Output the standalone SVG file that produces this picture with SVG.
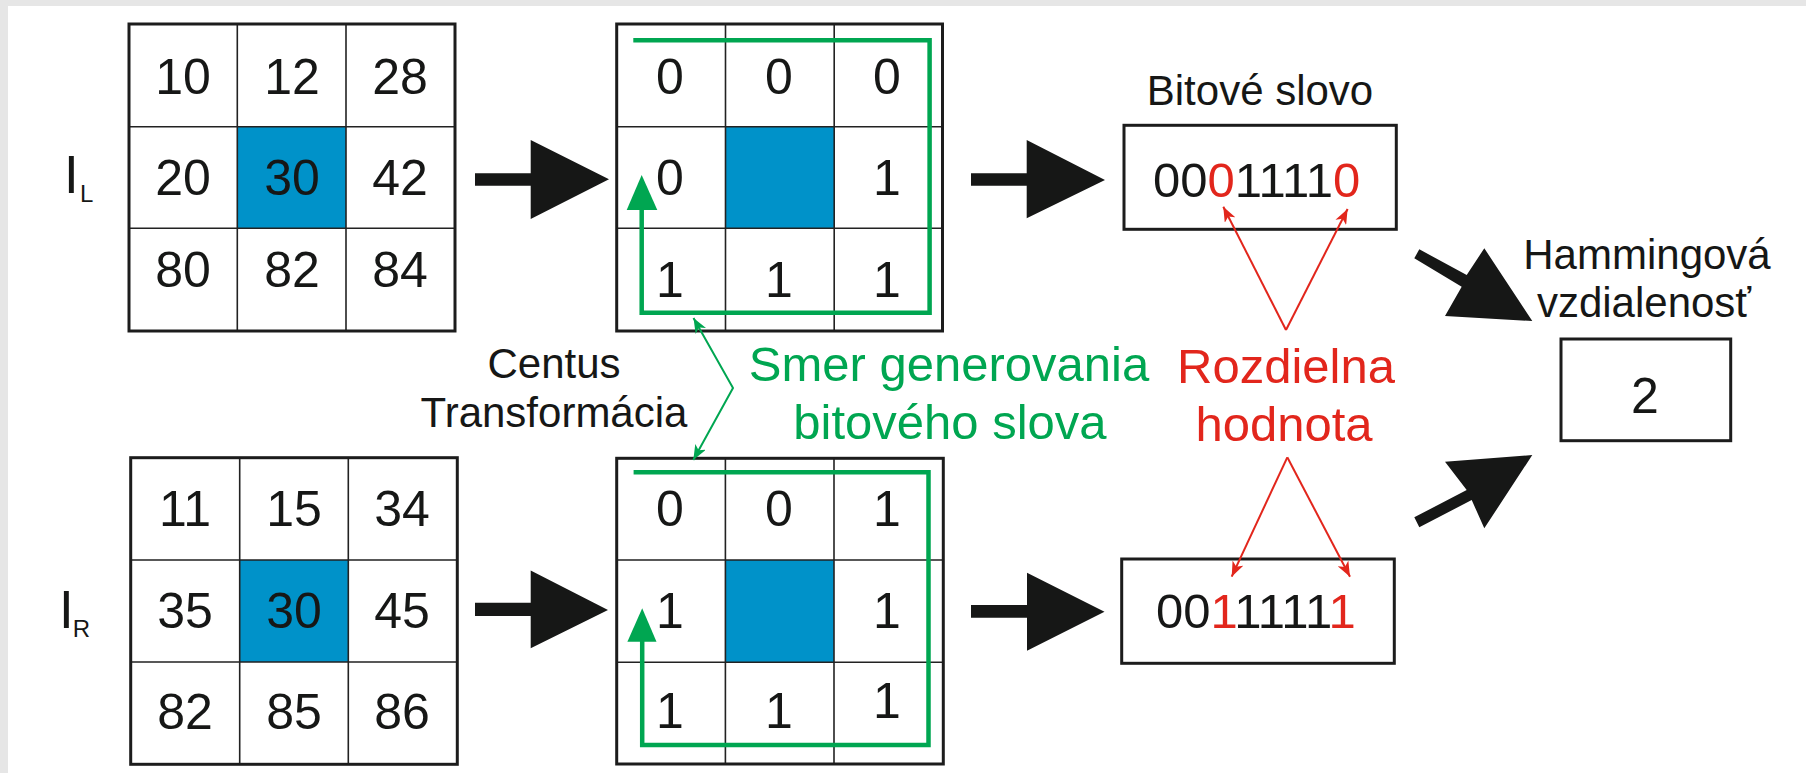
<svg xmlns="http://www.w3.org/2000/svg" width="1806" height="773" viewBox="0 0 1806 773">
<defs>
<style>
.t{font-family:"Liberation Sans",Arial,sans-serif;fill:#161716}
.d{font-size:50px;text-anchor:middle}
.lb{font-size:42px;text-anchor:middle}
.big{font-size:49px;text-anchor:middle}
.g{fill:#00a651}
.r{fill:#e2261c}
.outer{fill:none;stroke:#1c1c1c;stroke-width:3}
.inner{stroke:#222;stroke-width:1.6;fill:none}
.blue{fill:#0092c9}
.box{fill:#fff;stroke:#1c1c1c;stroke-width:3}
.bk{fill:#161716}
.gp{fill:none;stroke:#00a651;stroke-width:4.5}
.thinr{fill:none;stroke:#e2261c;stroke-width:2}
.thing{fill:none;stroke:#00a651;stroke-width:2}
</style>
<marker id="mr" markerUnits="userSpaceOnUse" markerWidth="16" markerHeight="12" refX="15" refY="6" orient="auto">
<path d="M0,0 L15,6 L0,12 L4,6 Z" fill="#e2261c"/>
</marker>
<marker id="mg" markerUnits="userSpaceOnUse" markerWidth="16" markerHeight="12" refX="15" refY="6" orient="auto-start-reverse">
<path d="M0,0 L15,6 L0,12 L4,6 Z" fill="#00a651"/>
</marker>
</defs>
<rect x="0" y="0" width="1806" height="773" fill="#ffffff"/>
<rect x="0" y="0" width="1806" height="6" fill="#e6e6e6"/>
<rect x="0" y="0" width="8" height="773" fill="#e6e6e6"/>

<g id="grid-IL">
<rect class="blue" x="237.3" y="126.7" width="108.7" height="101.6"/>
<path class="inner" d="M237.3,24 V331 M346,24 V331 M129,126.7 H455 M129,228.3 H455"/>
<rect class="outer" x="129" y="24" width="326" height="307"/>
<text class="t d" x="183" y="94.3">10</text>
<text class="t d" x="292" y="94.3">12</text>
<text class="t d" x="400" y="94.3">28</text>
<text class="t d" x="183" y="195">20</text>
<text class="t d" x="292" y="195">30</text>
<text class="t d" x="400" y="195">42</text>
<text class="t d" x="183" y="287.3">80</text>
<text class="t d" x="292" y="287.3">82</text>
<text class="t d" x="400" y="287.3">84</text>
</g>
<g id="label-IL">
<text class="t" x="64" y="193" font-size="53">I</text>
<text class="t" x="80" y="201.7" font-size="24">L</text>
</g>

<g id="grid-IR">
<rect class="blue" x="239.7" y="560" width="108.6" height="102"/>
<path class="inner" d="M239.7,457.7 V764.3 M348.3,457.7 V764.3 M130.7,560 H457.3 M130.7,662 H457.3"/>
<rect class="outer" x="130.7" y="457.7" width="326.6" height="306.6"/>
<text class="t d" x="185" y="525.7">11</text>
<text class="t d" x="294" y="525.7">15</text>
<text class="t d" x="402" y="525.7">34</text>
<text class="t d" x="185" y="627.7">35</text>
<text class="t d" x="294" y="627.7">30</text>
<text class="t d" x="402" y="627.7">45</text>
<text class="t d" x="185" y="729.3">82</text>
<text class="t d" x="294" y="729.3">85</text>
<text class="t d" x="402" y="729.3">86</text>
</g>
<g id="label-IR">
<text class="t" x="59" y="627.7" font-size="53">I</text>
<text class="t" x="72.7" y="636.7" font-size="24">R</text>
</g>

<g id="ct-top">
<rect class="blue" x="725.5" y="126.7" width="108.7" height="101.6"/>
<path class="inner" d="M725.5,24 V331 M834.2,24 V331 M616.7,126.7 H942.5 M616.7,228.3 H942.5"/>
<rect class="outer" x="616.7" y="24" width="325.8" height="307"/>
<text class="t d" x="670" y="94.3">0</text>
<text class="t d" x="779" y="94.3">0</text>
<text class="t d" x="887" y="94.3">0</text>
<text class="t d" x="670" y="195">0</text>
<text class="t d" x="887" y="195">1</text>
<text class="t d" x="670" y="296.7">1</text>
<text class="t d" x="779" y="296.7">1</text>
<text class="t d" x="887" y="296.7">1</text>
<polyline class="gp" points="633.3,40.3 929.6,40.3 929.6,312.7 641.7,312.7 641.7,205"/>
<polygon class="g" points="641.7,175 657.3,210 626.7,210"/>
</g>

<g id="ct-bottom">
<rect class="blue" x="725.4" y="560" width="108.6" height="102.3"/>
<path class="inner" d="M725.4,458.3 V764 M834,458.3 V764 M616.7,560 H943.3 M616.7,662.3 H943.3"/>
<rect class="outer" x="616.7" y="458.3" width="326.6" height="305.7"/>
<text class="t d" x="670" y="525.7">0</text>
<text class="t d" x="779" y="525.7">0</text>
<text class="t d" x="887" y="525.7">1</text>
<text class="t d" x="670" y="628.3">1</text>
<text class="t d" x="887" y="628.3">1</text>
<text class="t d" x="670" y="728.3">1</text>
<text class="t d" x="779" y="728.3">1</text>
<text class="t d" x="887" y="718.3">1</text>
<polyline class="gp" points="633.6,472.3 928.5,472.3 928.5,745 642.2,745 642.2,638"/>
<polygon class="g" points="642.2,608.3 656.5,641.7 627.4,641.7"/>
</g>

<g id="bitword-top">
<text class="t lb" x="1260" y="105">Bitové slovo</text>
<rect class="box" x="1124" y="125.3" width="272.3" height="104"/>
<text class="t" x="1153" y="196.7" font-size="49">00<tspan class="r">0</tspan>1111<tspan class="r">0</tspan></text>
</g>
<g id="bitword-bottom">
<rect class="box" x="1121.7" y="559" width="272.6" height="104.3"/>
<text class="t" x="1156" y="628.3" font-size="49">00<tspan class="r">1</tspan>1111<tspan class="r">1</tspan></text>
</g>

<g id="hamming">
<text class="t lb" x="1647" y="269.3">Hammingová</text>
<text class="t lb" x="1644" y="316.7">vzdialenosť</text>
<rect class="box" x="1561" y="339" width="169.7" height="101.7"/>
<text class="t d" x="1645" y="413.3">2</text>
</g>

<g id="label-centus">
<text class="t lb" x="554" y="378.3">Centus</text>
<text class="t lb" x="554" y="426.7">Transformácia</text>
</g>
<g id="label-smer">
<text class="t big g" x="949" y="381">Smer generovania</text>
<text class="t big g" x="950" y="439">bitového slova</text>
</g>
<g id="label-rozdielna">
<text class="t big r" x="1286" y="383.3">Rozdielna</text>
<text class="t big r" x="1284" y="441">hodnota</text>
</g>

<g id="connectors">
<polygon class="bk" points="475,173.3 530.7,173.3 530.7,140 609,179.3 530.7,219 530.7,185.7 475,185.7"/>
<polygon class="bk" points="971,173.3 1026.7,173.3 1026.7,140 1105,180 1026.7,218.3 1026.7,185.7 971,185.7"/>
<polygon class="bk" points="475,602.7 530.7,602.7 530.7,570.5 608,610 530.7,648.3 530.7,616 475,616"/>
<polygon class="bk" points="971,605 1027,605 1027,572.7 1104.5,611.7 1027,650.7 1027,617.7 971,617.7"/>
<polygon class="bk" points="1419.3,249.3 1466.7,275 1484.3,248.3 1532.3,321 1445,316 1461.7,286.7 1414.3,258.3"/>
<polygon class="bk" points="1414.3,517.3 1466.7,490 1445,461.7 1532.3,455 1484.3,528.3 1471.7,500 1419.3,527.3"/>
<line class="thinr" x1="1286" y1="330" x2="1223.3" y2="206.7" marker-end="url(#mr)"/>
<line class="thinr" x1="1286" y1="330" x2="1347.6" y2="209" marker-end="url(#mr)"/>
<line class="thinr" x1="1287.3" y1="457.3" x2="1231.7" y2="576.7" marker-end="url(#mr)"/>
<line class="thinr" x1="1287.3" y1="457.3" x2="1350" y2="576.7" marker-end="url(#mr)"/>
<polyline class="thing" points="693.5,318 733,388 693.3,460" marker-start="url(#mg)" marker-end="url(#mg)"/>
</g>
</svg>
